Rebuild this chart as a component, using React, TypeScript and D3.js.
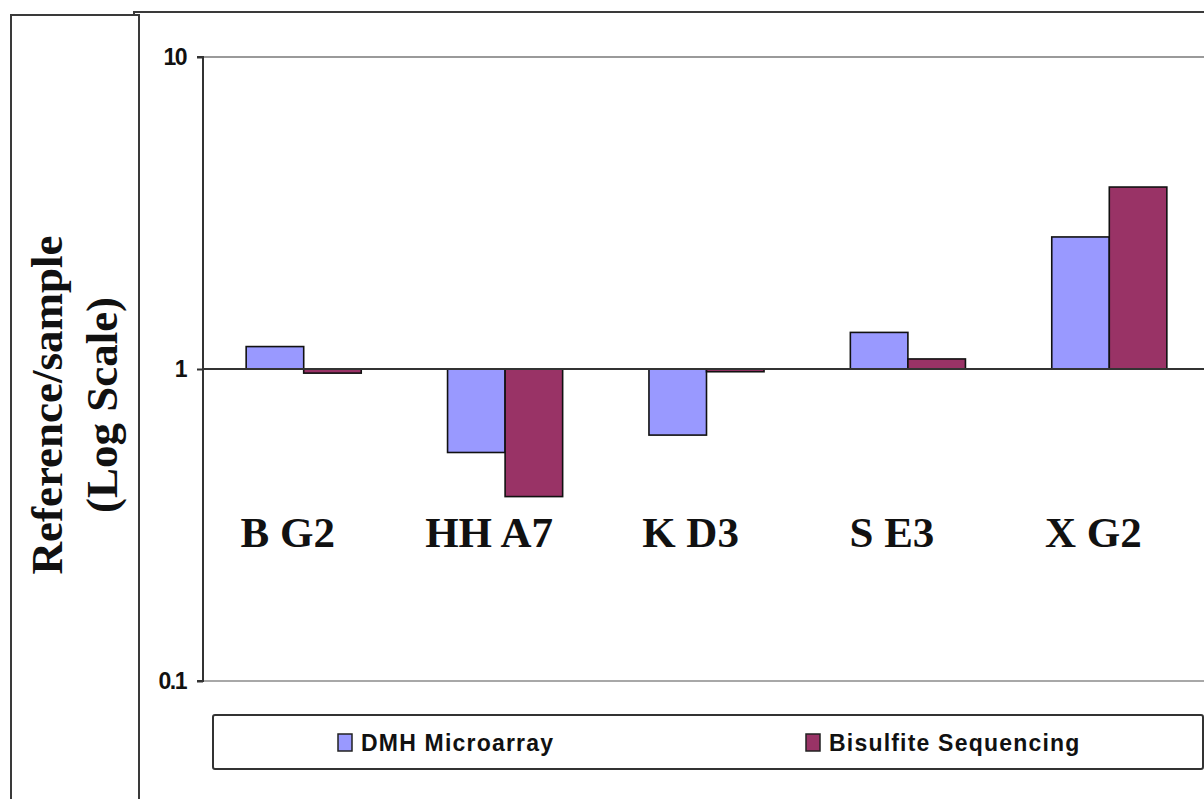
import React, { useEffect, useRef } from 'react';
import * as d3 from 'd3';

const categories = ['B G2', 'HH A7', 'K D3', 'S E3', 'X G2'];
const seriesNames = ['DMH Microarray', 'Bisulfite Sequencing'];
const dmhValues = [1.18, 0.54, 0.614, 1.31, 2.65];
const bisulfiteValues = [0.97, 0.39, 0.98, 1.077, 3.83];
const yTicks = [0.1, 1, 10];
const seriesColors = ['#9999FF', '#993366'];

const W = 1204;
const H = 799;

function App() {
  const ref = useRef<SVGSVGElement>(null);

  useEffect(() => {
    const svg = d3.select(ref.current);
    svg.selectAll('*').remove();

    const plot = { left: 203, right: 1210, top: 57, bottom: 681 };
    const serif = '"Liberation Serif", "Times New Roman", serif';
    const sans = '"Liberation Sans", Arial, sans-serif';

    // outer frames (text box on the left, chart area on the right)
    svg.append('rect')
      .attr('x', 11).attr('y', 15).attr('width', 128).attr('height', H)
      .attr('fill', 'white').attr('stroke', '#3a3a3a').attr('stroke-width', 2);
    svg.append('path')
      .attr('d', `M134,16 L134,12 L${W + 5},12`)
      .attr('fill', 'none').attr('stroke', '#3a3a3a').attr('stroke-width', 2);

    const x0 = d3.scaleBand<string>()
      .domain(categories)
      .range([plot.left, plot.right])
      .padding(0);

    const x1 = d3.scaleBand<string>()
      .domain(seriesNames)
      .range([0, x0.bandwidth()])
      .paddingInner(0)
      .paddingOuter(0.75);

    const y = d3.scaleLog()
      .domain([0.1, 10])
      .range([plot.bottom, plot.top]);

    // plot area lines
    svg.append('line')
      .attr('x1', plot.left).attr('x2', W + 5)
      .attr('y1', y(10)).attr('y2', y(10))
      .attr('stroke', '#9a9a9a').attr('stroke-width', 2);
    svg.append('line')
      .attr('x1', plot.left).attr('x2', W + 5)
      .attr('y1', y(0.1)).attr('y2', y(0.1))
      .attr('stroke', '#a8a8a8').attr('stroke-width', 2);

    const rows = categories.map((c, i) => ({
      cat: c,
      values: [dmhValues[i], bisulfiteValues[i]],
    }));

    const g = svg.append('g');
    rows.forEach((row) => {
      row.values.forEach((v, j) => {
        const yv = y(v);
        const y1 = y(1);
        g.append('rect')
          .attr('x', (x0(row.cat) as number) + (x1(seriesNames[j]) as number))
          .attr('y', Math.min(yv, y1))
          .attr('width', x1.bandwidth())
          .attr('height', Math.max(Math.abs(yv - y1), 1))
          .attr('fill', seriesColors[j])
          .attr('stroke', '#111')
          .attr('stroke-width', 1.6);
      });
    });

    // category axis crossing at 1
    svg.append('line')
      .attr('x1', plot.left).attr('x2', W + 5)
      .attr('y1', y(1)).attr('y2', y(1))
      .attr('stroke', '#333').attr('stroke-width', 2);

    // value axis
    const yAxis = d3.axisLeft(y)
      .tickValues(yTicks)
      .tickFormat(d3.format('~g') as any)
      .tickSize(6)
      .tickPadding(11);
    const ya = svg.append('g')
      .attr('transform', `translate(${plot.left},0)`)
      .call(yAxis);
    ya.attr('font-size', null).attr('font-family', null);
    ya.select('.domain').attr('stroke', '#333').attr('stroke-width', 2)
      .attr('d', `M-6,${plot.top}H0V${plot.bottom}H-6`);
    ya.selectAll('.tick line').attr('stroke', '#333').attr('stroke-width', 2);
    ya.selectAll('.tick text')
      .style('font-family', sans)
      .style('font-weight', 'bold')
      .style('font-size', '23px')
      .attr('letter-spacing', -1.5)
      .attr('fill', '#111');

    // category labels
    svg.append('g')
      .selectAll('text')
      .data(categories)
      .enter()
      .append('text')
      .attr('x', (d) => (x0(d) as number) + x0.bandwidth() / 2 - 16)
      .attr('y', 547)
      .attr('text-anchor', 'middle')
      .attr('font-family', serif)
      .attr('font-weight', 'bold')
      .attr('font-size', 43)
      .attr('fill', '#111')
      .text((d) => d);

    // y title
    const title = svg.append('g').attr('transform', 'translate(0,405)');
    title.append('text')
      .attr('transform', 'translate(62,0) rotate(-90)')
      .attr('text-anchor', 'middle')
      .attr('font-family', serif).attr('font-weight', 'bold').attr('font-size', 45)
      .attr('fill', '#111')
      .text('Reference/sample');
    title.append('text')
      .attr('transform', 'translate(117,0) rotate(-90)')
      .attr('text-anchor', 'middle')
      .attr('font-family', serif).attr('font-weight', 'bold').attr('font-size', 45)
      .attr('fill', '#111')
      .text('(Log Scale)');

    // legend
    const lg = svg.append('g');
    lg.append('rect')
      .attr('x', 213).attr('y', 715).attr('width', 990).attr('height', 54)
      .attr('rx', 2)
      .attr('fill', 'white').attr('stroke', '#333').attr('stroke-width', 2);
    const legendX = [338, 806];
    seriesNames.forEach((name, i) => {
      lg.append('rect')
        .attr('x', legendX[i]).attr('y', 734)
        .attr('width', 14).attr('height', 17)
        .attr('fill', seriesColors[i]).attr('stroke', '#222').attr('stroke-width', 1.5);
      lg.append('text')
        .attr('x', legendX[i] + 23).attr('y', 751)
        .attr('font-family', sans).attr('font-weight', 'bold').attr('font-size', 23)
        .attr('letter-spacing', 1.2)
        .attr('fill', '#111')
        .text(name);
    });
  }, []);

  return (
    <div style={{ position: 'absolute', left: 0, top: 0 }}>
      <svg ref={ref} width={W} height={H} style={{ display: 'block', background: 'white' }} />
    </div>
  );
}

export default App;
